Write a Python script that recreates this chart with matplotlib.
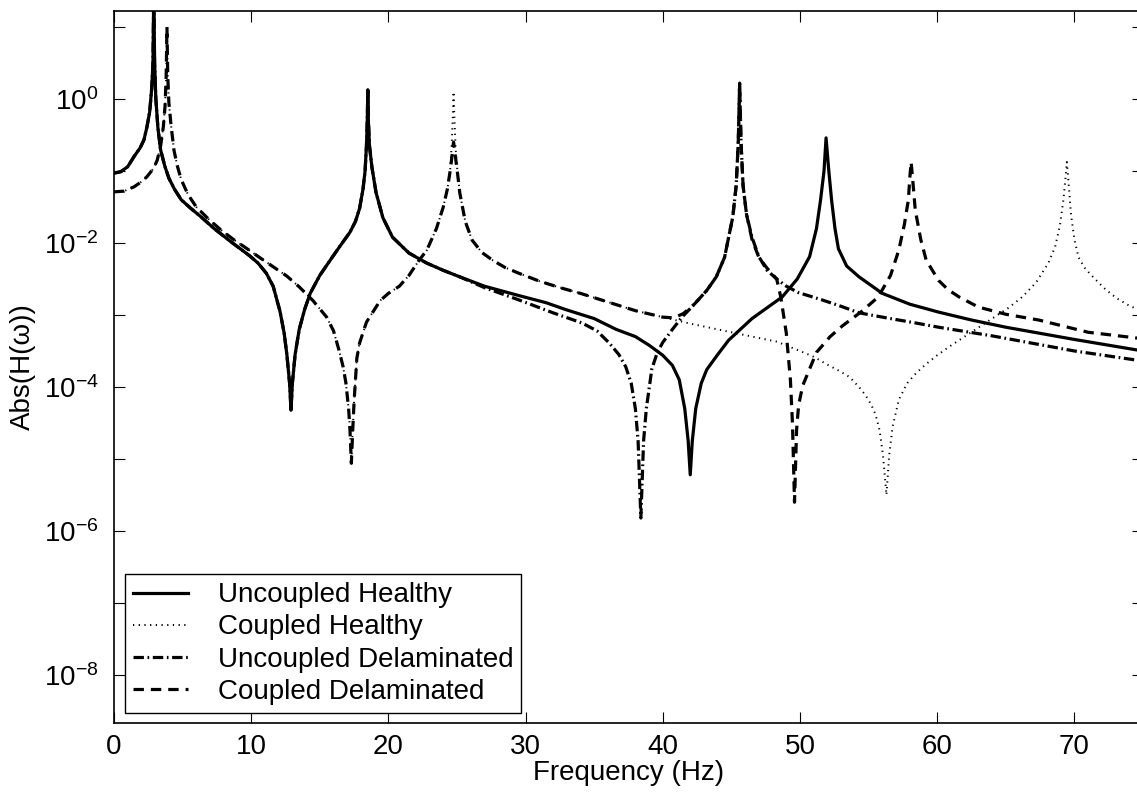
import matplotlib
matplotlib.use("Agg")
import matplotlib.pyplot as plt
import numpy as np

plt.rcParams['font.family'] = ['Liberation Sans', 'DejaVu Sans']
plt.rcParams['mathtext.fontset'] = 'custom'
plt.rcParams['mathtext.rm'] = 'Liberation Sans'
plt.rcParams['mathtext.it'] = 'Liberation Sans:italic'
plt.rcParams['lines.scale_dashes'] = False

# -------- Data (frequency in Hz, log10 of |H|) --------
labels = ["Uncoupled Healthy", "Coupled Healthy", "Uncoupled Delaminated", "Coupled Delaminated"]

# Uncoupled Healthy (solid)
f_uh = [0, 0.5, 1.0, 1.46, 1.9, 2.18, 2.4, 2.6, 2.75, 2.84, 2.9, 2.96, 3.05, 3.2, 3.4, 3.7,
        4.0, 4.4, 4.9, 5.6, 6.3, 7.3, 8.5, 9.2, 9.9, 10.5, 11.1, 11.6, 12.1, 12.4, 12.6, 12.8,
        12.9, 13.0, 13.2, 13.5, 13.9, 14.3, 15.0, 15.9, 16.45, 17.2, 17.6, 17.9, 18.15, 18.3,
        18.4, 18.46, 18.5, 18.54, 18.62, 18.8, 19.1, 19.6, 20.3, 21.5, 22.8, 24.0, 25.2, 27.0,
        29.5, 31.5, 33.0, 35.0, 36.6, 38.0, 39.0, 40.0, 40.7, 41.2, 41.6, 41.85, 42.0, 42.15,
        42.4, 42.8, 43.2, 44.0, 44.8, 46.5, 47.6, 48.7, 49.8, 50.7, 51.2, 51.5, 51.75, 51.9,
        52.1, 52.3, 52.55, 52.8, 53.4, 54.3, 56.0, 58.0, 60.1, 62.5, 65.0, 70.0, 75.0]
log_uh = [-1.03, -1.01, -0.94, -0.80, -0.68, -0.57, -0.39, -0.18, 0.15, 0.50, 1.50, 0.50,
          0.00, -0.40, -0.71, -0.93, -1.10, -1.25, -1.40, -1.52, -1.63, -1.80, -1.98, -2.08,
          -2.18, -2.28, -2.42, -2.60, -2.95, -3.25, -3.55, -3.95, -4.32, -3.95, -3.55, -3.20,
          -2.92, -2.70, -2.45, -2.20, -2.05, -1.85, -1.70, -1.52, -1.25, -1.00, -0.65, -0.30,
          0.125, -0.30, -0.65, -0.95, -1.30, -1.65, -1.92, -2.14, -2.28, -2.38, -2.47, -2.60,
          -2.73, -2.83, -2.93, -3.05, -3.20, -3.30, -3.42, -3.56, -3.70, -3.90, -4.30, -4.75,
          -5.22, -4.75, -4.30, -3.95, -3.76, -3.55, -3.35, -3.05, -2.90, -2.75, -2.50, -2.19,
          -1.80, -1.40, -1.00, -0.54, -1.00, -1.40, -1.80, -2.08, -2.32, -2.47, -2.70, -2.85,
          -2.96, -3.07, -3.17, -3.34, -3.50]

# Coupled Healthy (dotted)
f_ch = [0, 0.73, 1.46, 2.0, 2.4, 2.9, 3.15, 3.4, 3.6, 3.72, 3.8, 3.86, 3.92, 4.0, 4.15, 4.37,
        4.6, 4.9, 5.4, 6.0, 6.9, 7.8, 8.7, 9.7, 10.6, 11.6, 12.6, 13.5, 14.5, 15.5, 16.0, 16.4,
        16.7, 16.9, 17.1, 17.2, 17.3, 17.4, 17.5, 17.7, 17.9, 18.4, 19.1, 19.4, 20.0, 20.8,
        21.5, 22.2, 22.8, 23.5, 24.0, 24.3, 24.5, 24.62, 24.7, 24.75, 24.8, 24.9, 25.05, 25.2,
        25.6, 26.1, 26.8, 27.6, 28.5, 29.5, 31.0, 32.5, 34.0, 36.0, 38.0, 40.0, 42.0, 44.0,
        46.0, 48.3, 50.0, 51.0, 51.9, 52.8, 53.6, 54.3, 54.8, 55.2, 55.5, 55.8, 56.05, 56.3,
        56.5, 56.75, 57.2, 57.8, 58.5, 59.2, 60.0, 60.8, 61.6, 62.8, 64.0, 65.2, 66.2, 67.2,
        68.1, 68.6, 68.95, 69.2, 69.35, 69.45, 69.55, 69.75, 70.0, 70.3, 70.8, 71.5, 72.3,
        73.1, 73.9, 75.0]
log_ch = [-1.29, -1.28, -1.22, -1.15, -1.08, -0.96, -0.85, -0.65, -0.38, -0.10, 0.30, 1.00,
          0.30, -0.05, -0.35, -0.71, -0.92, -1.12, -1.33, -1.50, -1.67, -1.82, -1.95, -2.08,
          -2.20, -2.33, -2.46, -2.61, -2.80, -3.03, -3.22, -3.49, -3.72, -3.94, -4.30, -4.60,
          -5.06, -4.60, -4.20, -3.60, -3.39, -3.10, -2.89, -2.80, -2.70, -2.60, -2.45, -2.25,
          -2.10, -1.80, -1.50, -1.25, -1.00, -0.60, -0.20, 0.10, -0.20, -0.70, -1.05, -1.30,
          -1.70, -1.96, -2.13, -2.24, -2.34, -2.42, -2.53, -2.62, -2.70, -2.82, -2.94, -3.03,
          -3.12, -3.20, -3.28, -3.37, -3.50, -3.58, -3.68, -3.77, -3.86, -4.00, -4.12, -4.25,
          -4.38, -4.60, -4.95, -5.50, -4.95, -4.55, -4.18, -3.95, -3.80, -3.68, -3.56, -3.45,
          -3.35, -3.20, -3.05, -2.90, -2.75, -2.55, -2.28, -2.05, -1.75, -1.40, -1.10, -0.875,
          -1.10, -1.60, -1.95, -2.20, -2.36, -2.50, -2.65, -2.77, -2.86, -2.96]

# Uncoupled Delaminated (dash-dot), under the solid line up to ~25 Hz
f_ud = f_uh[:59] + [27.0, 29.5, 32.0, 34.1, 35.2, 36.1, 36.8, 37.3, 37.7, 38.0, 38.2, 38.4,
                    38.6, 38.8, 39.2, 39.6, 40.0, 40.7, 41.4, 42.3, 43.2, 43.9, 44.5, 45.1,
                    45.35, 45.5, 45.6, 45.7, 45.85, 46.1, 46.5, 47.0, 47.6, 48.3, 49.0, 49.9,
                    51.6, 53.0, 54.3, 56.3, 58.4, 60.1, 61.4, 64.0, 66.0, 70.0, 75.0]
log_ud = log_uh[:59] + [-2.62, -2.79, -2.97, -3.11, -3.22, -3.39, -3.55, -3.72, -3.95, -4.30,
                        -4.75, -5.82, -4.75, -4.30, -3.75, -3.52, -3.38, -3.20, -3.03, -2.85,
                        -2.66, -2.47, -2.20, -1.64, -1.20, -0.60, 0.22, -0.60, -1.20, -1.60,
                        -1.92, -2.19, -2.38, -2.50, -2.60, -2.69, -2.79, -2.88, -2.97, -3.04,
                        -3.11, -3.17, -3.21, -3.29, -3.36, -3.50, -3.64]

# Coupled Delaminated (dashed), with the dotted line up to ~40 Hz apart from the 24.8 Hz peak
f_cd = f_ch[:53] + [24.6, 24.68, 24.75, 24.82, 24.95] + f_ch[58:72] + [
    40.8, 41.5, 42.3, 43.2, 43.9, 44.5, 45.1, 45.35, 45.5, 45.6, 45.7, 45.85, 46.1, 46.5, 47.0,
    47.6, 48.3, 48.6, 49.0, 49.3, 49.45, 49.6, 49.75, 49.9, 50.2, 50.7, 51.2, 52.2, 53.1, 54.5,
    55.7, 56.6, 57.2, 57.6, 57.9, 58.0, 58.1, 58.25, 58.4, 58.8, 59.2, 60.1, 60.8, 61.6, 63.0,
    65.0, 67.4, 71.0, 75.0]
log_cd = log_ch[:53] + [-0.85, -0.70, -0.60, -0.70, -0.90] + log_ch[58:72] + [
    -3.04, -2.98, -2.85, -2.66, -2.47, -2.20, -1.64, -1.20, -0.60, 0.22, -0.60, -1.20, -1.60,
    -1.95, -2.20, -2.35, -2.50, -2.75, -3.25, -3.90, -4.50, -5.60, -4.60, -4.25, -3.98, -3.75,
    -3.52, -3.30, -3.15, -2.95, -2.75, -2.45, -2.10, -1.75, -1.40, -1.10, -0.875, -1.20,
    -1.54, -1.95, -2.24, -2.52, -2.65, -2.75, -2.89, -2.99, -3.07, -3.24, -3.33]

# -------- Figure --------
fig = plt.figure(figsize=(11.37, 7.95), dpi=100)
ax = fig.add_axes([114 / 1137, 72 / 795, 1029 / 1137, 712 / 795])

ax.plot(f_uh, 10.0 ** np.array(log_uh), color='black', lw=2.3, ls='-', label=labels[0])
ax.plot(f_ch, 10.0 ** np.array(log_ch), color='black', lw=1.4, ls=(0, (0.9, 3.2)), label=labels[1])
ax.plot(f_ud, 10.0 ** np.array(log_ud), color='black', lw=2.3, ls=(0, (7.5, 2.6, 1.2, 2.6)), label=labels[2])
ax.plot(f_cd, 10.0 ** np.array(log_cd), color='black', lw=2.3, ls=(0, (7.5, 5.0)), label=labels[3])

ax.set_yscale('log')
ax.set_xlim(0, 75)
ax.set_ylim(10 ** -8.667, 10 ** 1.222)

ax.set_xticks(np.arange(0, 71, 10))
decades = np.arange(-8, 2)
ax.set_yticks(10.0 ** decades)
ax.set_yticklabels([r'$10^{%d}$' % d if d % 2 == 0 else '' for d in decades])
ax.yaxis.set_minor_locator(matplotlib.ticker.NullLocator())
ax.tick_params(which='both', direction='in', top=True, right=True, length=8, width=0.8,
               labelsize=20)
ax.tick_params(axis='x', pad=8)
ax.tick_params(axis='y', pad=11)
for s in ax.spines.values():
    s.set_linewidth(1.2)

ax.set_xlabel('Frequency (Hz)', fontsize=20, labelpad=0)
ax.set_ylabel('Abs(H(ω))', fontsize=20)
ax.yaxis.set_label_coords(-0.076, 0.5)

leg = ax.legend(loc='lower left', bbox_to_anchor=(0.0107, 0.014), fontsize=20, frameon=True,
                fancybox=False, edgecolor='black', framealpha=1, handlelength=1.95,
                borderpad=0.3, labelspacing=0.22, handletextpad=1.08, borderaxespad=0)
leg.get_frame().set_linewidth(1.0)

fig.savefig('out.png', dpi=100)
